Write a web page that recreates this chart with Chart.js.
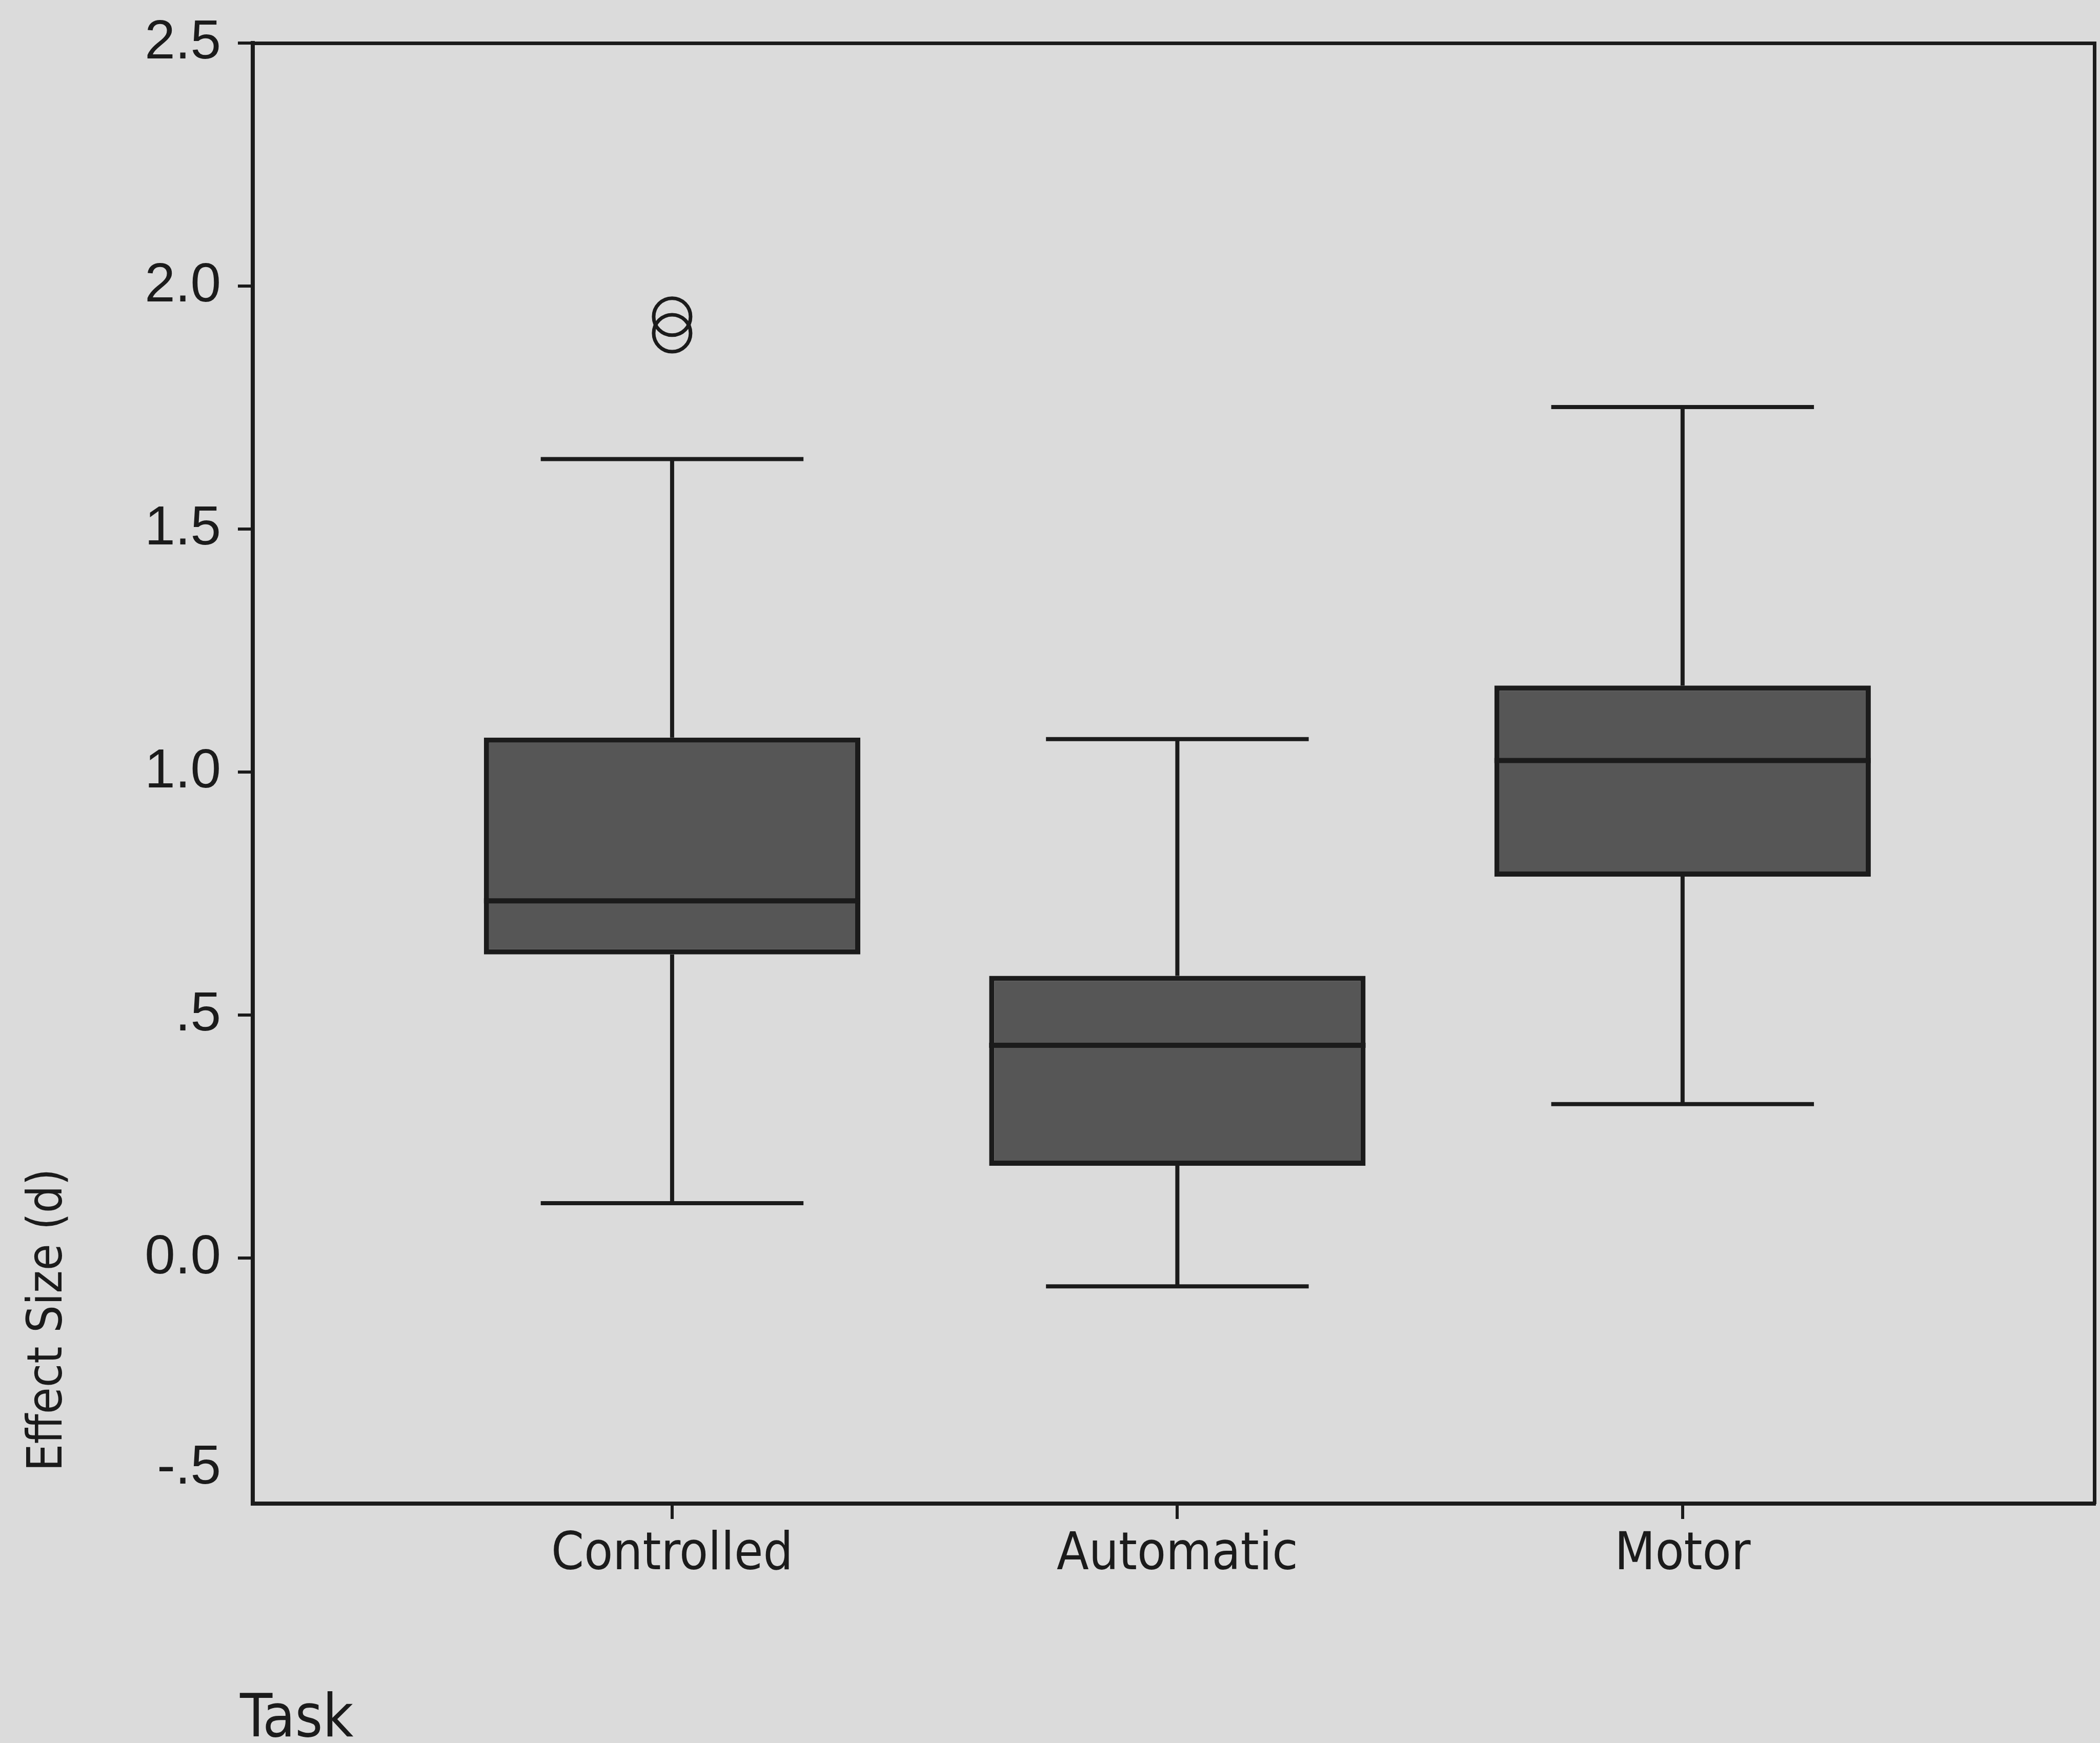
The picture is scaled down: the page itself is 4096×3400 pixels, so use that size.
<!DOCTYPE html>
<html>
<head>
<meta charset="utf-8">
<script src="https://cdn.jsdelivr.net/npm/chart.js@4"></script>
<style>
  html, body { margin: 0; padding: 0; background: #dbdbdb; }
  canvas { display: block; }
</style>
</head>
<body>
<canvas id="boxChart" width="4096" height="3400"></canvas>
<script>
// categories and box plot values (effect size d)
const categories = ["Controlled", "Automatic", "Motor"];
const catPos = [1, 2, 3];
const whiskerHigh = [1.644, 1.068, 1.751];
const q3 = [1.071, 0.581, 1.178];
const medians = [0.735, 0.438, 1.024];
const q1 = [0.625, 0.190, 0.785];
const whiskerLow = [0.113, -0.058, 0.317];
const outliers = [[1.937, 1.903], [], []];

const yTicks = [-0.5, 0, 0.5, 1, 1.5, 2, 2.5];
const yTickLabels = ["-.5", "0.0", ".5", "1.0", "1.5", "2.0", "2.5"];

const ink = "#1b1b1b";
const boxFill = "#565656";
const BOX_PCT = 0.745;
const CAP_HALF = 0.26;
const textFont = "'DejaVu Sans Condensed', 'DejaVu Sans', sans-serif";

// build line data for whiskers / caps and medians
const whiskerData = [];
const medianData = [];
catPos.forEach((p, i) => {
  whiskerData.push({x: p - CAP_HALF, y: whiskerHigh[i]}, {x: p + CAP_HALF, y: whiskerHigh[i]}, {x: p, y: null});
  whiskerData.push({x: p, y: whiskerHigh[i]}, {x: p, y: q3[i]}, {x: p, y: null});
  whiskerData.push({x: p, y: q1[i]}, {x: p, y: whiskerLow[i]}, {x: p, y: null});
  whiskerData.push({x: p - CAP_HALF, y: whiskerLow[i]}, {x: p + CAP_HALF, y: whiskerLow[i]}, {x: p + 0.4, y: null});
  medianData.push({x: p - BOX_PCT / 2, y: medians[i]}, {x: p + BOX_PCT / 2, y: medians[i]}, {x: p + 0.45, y: null});
});
const outlierData = [];
outliers.forEach((list, i) => list.forEach(v => outlierData.push({x: catPos[i], y: v})));

// axis titles drawn as text on the canvas
const titlesPlugin = {
  id: "titles",
  afterDraw(chart) {
    const ctx = chart.ctx;
    ctx.save();
    ctx.fillStyle = ink;
    ctx.textBaseline = "alphabetic";
    ctx.textAlign = "left";
    ctx.font = "115px " + textFont;
    ctx.fillText("Task", 468, 3387);
    ctx.font = "94px " + textFont;
    ctx.translate(120, 2870);
    ctx.rotate(-Math.PI / 2);
    ctx.fillText("Effect Size (d)", 0, 0);
    ctx.restore();
  }
};

const ctx = document.getElementById("boxChart").getContext("2d");
new Chart(ctx, {
  data: {
    datasets: [
      {
        type: "line",
        data: medianData,
        borderColor: ink,
        borderWidth: 10,
        pointRadius: 0,
        spanGaps: false,
        order: 0
      },
      {
        type: "bar",
        data: catPos.map((p, i) => ({x: p, y: [q1[i], q3[i]]})),
        backgroundColor: boxFill,
        borderColor: ink,
        borderWidth: 10,
        borderSkipped: false,
        barPercentage: 1,
        categoryPercentage: BOX_PCT,
        order: 1
      },
      {
        type: "line",
        data: whiskerData,
        borderColor: ink,
        borderWidth: 8,
        pointRadius: 0,
        spanGaps: false,
        order: 2
      },
      {
        type: "scatter",
        data: outlierData,
        pointRadius: 36,
        pointBorderWidth: 7,
        pointBorderColor: ink,
        pointBackgroundColor: "rgba(0,0,0,0)",
        order: 0
      }
    ]
  },
  options: {
    responsive: false,
    devicePixelRatio: 1,
    animation: false,
    layout: { autoPadding: false, padding: { top: 84, right: 11, left: 0, bottom: 0 } },
    plugins: { legend: { display: false }, tooltip: { enabled: false } },
    scales: {
      x: {
        type: "linear",
        position: "bottom",
        offset: false,
        min: 0.17,
        max: 3.815,
        afterBuildTicks: s => { s.ticks = catPos.map(v => ({value: v})); },
        ticks: {
          callback: (v, i) => categories[i],
          font: { family: textFont, size: 102 },
          color: ink,
          padding: 10,
          autoSkip: false,
          maxRotation: 0
        },
        grid: { offset: false, drawOnChartArea: false, drawTicks: true, tickLength: 30, lineWidth: 6, color: ink },
        border: { display: true, width: 8, color: ink },
        afterFit: s => { s.height = 467; }
      },
      y: {
        type: "linear",
        position: "left",
        min: -0.505,
        max: 2.5,
        afterBuildTicks: s => { s.ticks = yTicks.map(v => ({value: v})); },
        ticks: {
          // the lowest label sits a little above its tick, as in the original
          callback: (v, i) => i === 0 ? [yTickLabels[i], "", ""] : yTickLabels[i],
          font: { family: "'Liberation Sans', Arial, sans-serif", size: 107, lineHeight: 0.6 },
          color: ink,
          padding: 33
        },
        grid: {
          drawOnChartArea: false, drawTicks: true, tickLength: 29, lineWidth: 6, color: ink,
          tickColor: c => c.index === 0 ? "rgba(0,0,0,0)" : ink
        },
        border: { display: true, width: 8, color: ink },
        afterFit: s => { s.width = 493; }
      },
      xTop: {
        type: "linear",
        position: "top",
        offset: false,
        min: 0,
        max: 1,
        ticks: { display: false },
        grid: { offset: false, drawOnChartArea: false, drawTicks: false },
        border: { display: true, width: 7, color: ink },
        afterFit: s => { s.height = 0; }
      },
      yRight: {
        type: "linear",
        position: "right",
        min: 0,
        max: 1,
        ticks: { display: false },
        grid: { drawOnChartArea: false, drawTicks: false },
        border: { display: true, width: 7, color: ink },
        afterFit: s => { s.width = 0; }
      }
    }
  },
  plugins: [titlesPlugin]
});
</script>
</body>
</html>
